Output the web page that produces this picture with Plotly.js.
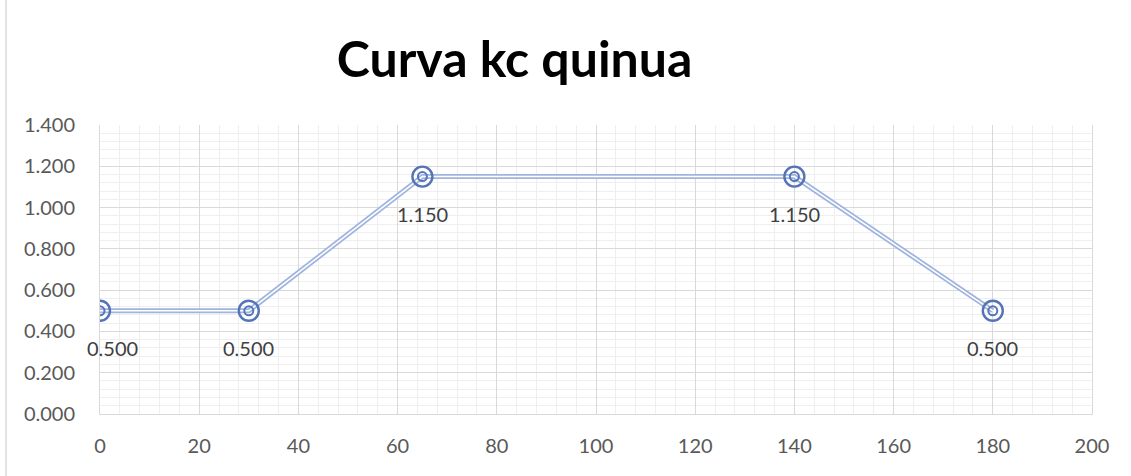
<!DOCTYPE html>
<html>
<head>
<meta charset="utf-8">
<script src="https://cdn.plot.ly/plotly-3.0.1.min.js"></script>
<style>html,body{margin:0;padding:0;background:#fff;}#chart{width:1131px;height:476px;}</style>
</head>
<body>
<div id="chart"></div>
<script>
const days = [0, 30, 65, 140, 180];
const kc = [0.5, 0.5, 1.15, 1.15, 0.5];
const kcLabels = ["0.500", "0.500", "1.150", "1.150", "0.500"];
const chartTitle = "Curva kc quinua";

const lineCol = "#9fb4de";
const markCol = "#5574b8";
const fontFam = "Lato, 'Open Sans', sans-serif";

const traces = [
  {x: days, y: kc, mode: "lines", line: {color: lineCol, width: 5}, hoverinfo: "skip", showlegend: false},
  {x: days, y: kc, mode: "lines", line: {color: "#ffffff", width: 1.5}, hoverinfo: "skip", showlegend: false},
  {x: days, y: kc, mode: "markers", marker: {symbol: "circle-open", size: 20, color: markCol, line: {color: markCol, width: 2.4}}, showlegend: false},
  {x: days, y: kc, mode: "markers", marker: {symbol: "circle-open", size: 9, color: markCol, line: {color: markCol, width: 2}}, showlegend: false}
];

const annotations = days.map((d, i) => ({
  x: d, y: kc[i], xref: "x", yref: "y", text: kcLabels[i], showarrow: false,
  yshift: -37, xshift: i === 0 ? 12 : 0,
  font: {family: fontFam, size: 20, color: "#404040"}
}));

const layout = {
  width: 1131, height: 476,
  margin: {l: 100, r: 39, t: 125, b: 62},
  paper_bgcolor: "#ffffff", plot_bgcolor: "#ffffff",
  title: {text: "<b>" + chartTitle + "</b>", x: 0.455, xanchor: "center", y: 0.875, yanchor: "middle",
    font: {family: fontFam, size: 50, color: "#000000"}},
  xaxis: {range: [0, 200], tickmode: "linear", tick0: 0, dtick: 20, showgrid: true, gridcolor: "#d9d9d9", gridwidth: 1,
    minor: {dtick: 4, showgrid: true, gridcolor: "#efefef", gridwidth: 1},
    zeroline: false, showline: true, linecolor: "#d9d9d9", ticks: "", ticklabelstandoff: 14,
    tickfont: {family: fontFam, size: 20, color: "#595959"}, fixedrange: true},
  yaxis: {range: [0, 1.4], tickmode: "linear", tick0: 0, dtick: 0.2, tickformat: ".3f", showgrid: true, gridcolor: "#d9d9d9", gridwidth: 1,
    minor: {dtick: 0.04, showgrid: true, gridcolor: "#efefef", gridwidth: 1},
    zeroline: false, showline: true, linecolor: "#d9d9d9", mirror: true, ticks: "", ticklabelstandoff: 20,
    tickfont: {family: fontFam, size: 20, color: "#595959"}, fixedrange: true},
  annotations: annotations,
  shapes: [{type: "line", xref: "paper", yref: "paper", x0: -0.0947, x1: -0.0947, y0: -0.3, y1: 1.5, line: {color: "#d9d9d9", width: 1.5}}],
  showlegend: false
};
Plotly.newPlot("chart", traces, layout, {displayModeBar: false, staticPlot: true});
</script>
</body>
</html>
